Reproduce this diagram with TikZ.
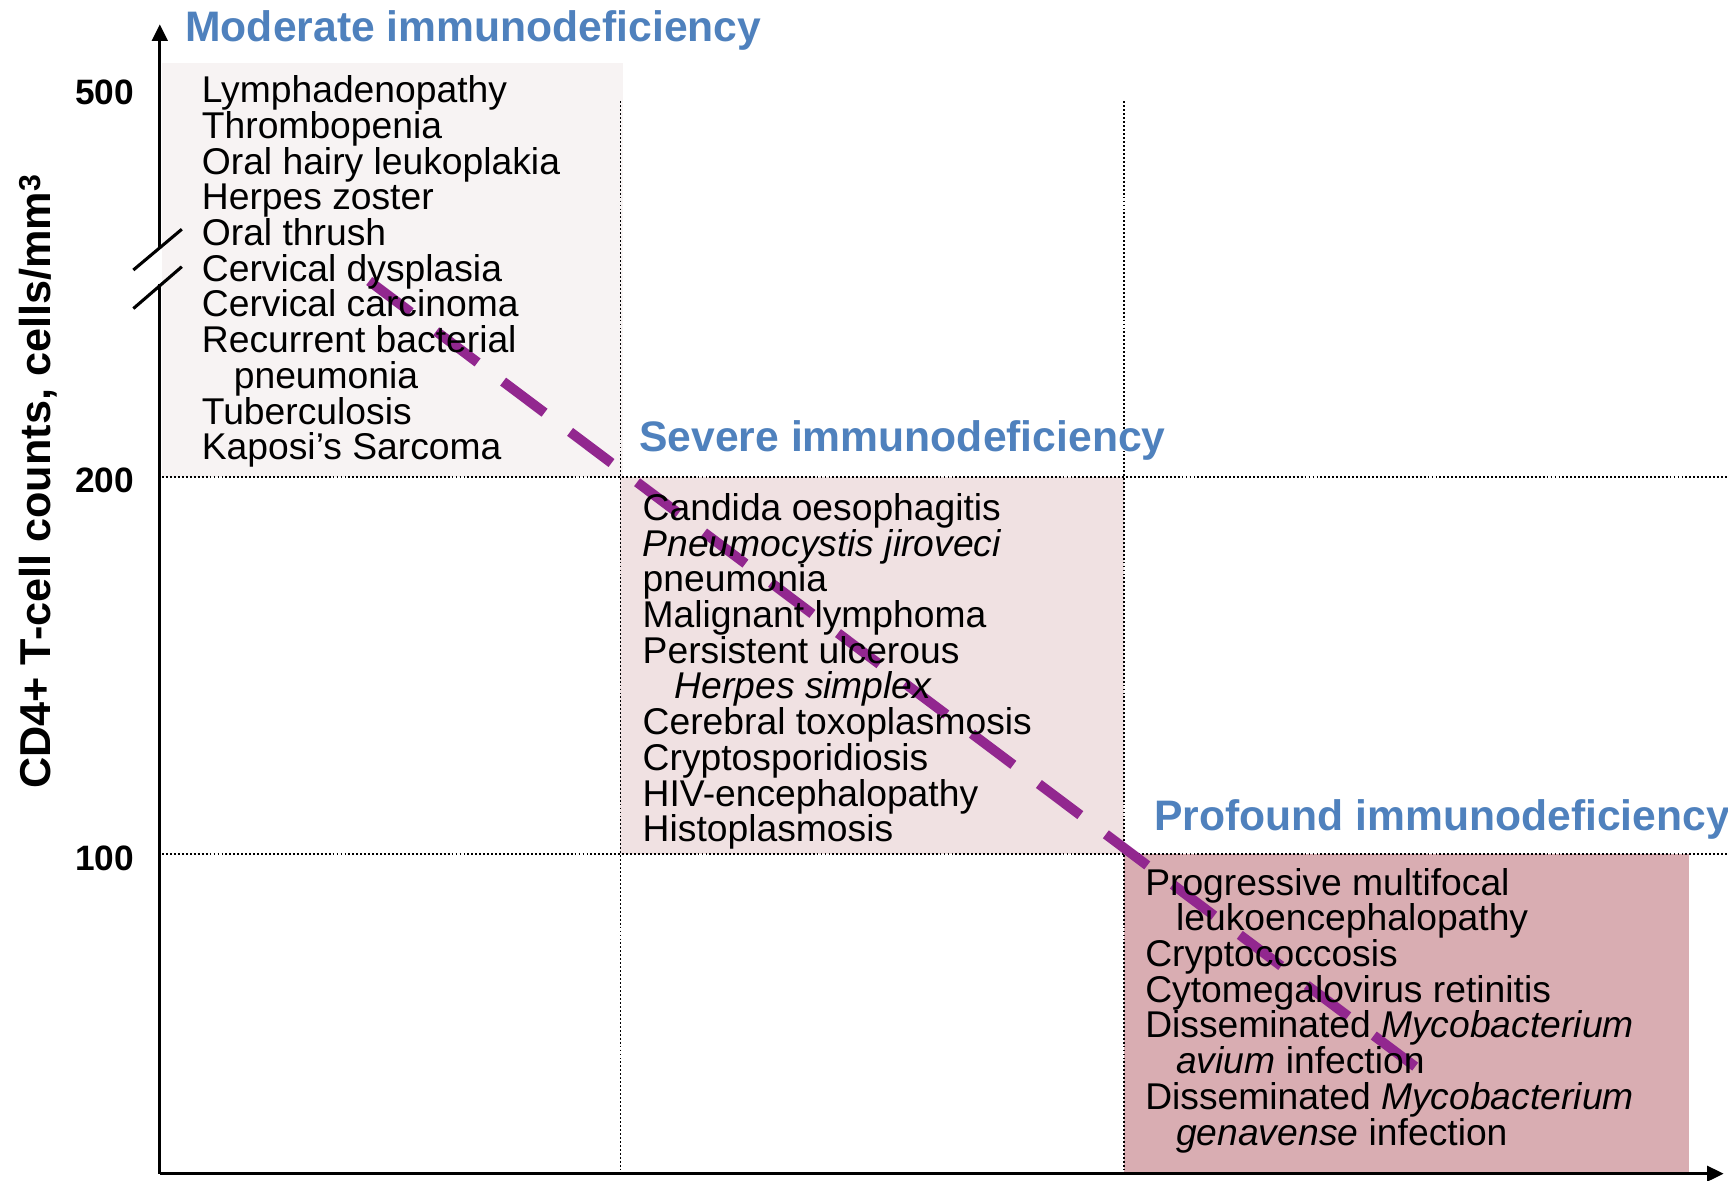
\documentclass[tikz,border=0pt]{standalone}
\usepackage{fontspec}
\setmainfont{Liberation Sans}
\usetikzlibrary{arrows.meta}
\definecolor{titleblue}{HTML}{4F81BD}
\definecolor{trendpurple}{HTML}{92278F}
\definecolor{modfill}{HTML}{F7F3F3}
\definecolor{sevfill}{HTML}{F0E1E2}
\definecolor{proffill}{HTML}{D9ADB2}
\newcommand\listfont{\fontsize{33.8}{32.4}\selectfont\lineskiplimit=-40pt\relax}
\begin{document}
\begin{tikzpicture}[x=1pt,y=-1pt,
  stage/.style={font=\fontsize{38.7}{40}\selectfont\bfseries, text=titleblue, anchor=base west, inner sep=0},
  tick/.style={font=\fontsize{32}{34}\selectfont\bfseries, anchor=base east, inner sep=0},
  illness/.style={font=\listfont, align=left, anchor=north west, inner sep=0},
  gridline/.style={line width=1.7pt, dash pattern=on 1.7pt off 1.9pt},
  axis/.style={line width=2.6pt, -{Triangle[length=15pt,width=14pt]}}]
\useasboundingbox (0,0) rectangle (1568,1071);
\fill[modfill] (147,57) rectangle (565,433);
\fill[sevfill] (563,433) rectangle (1020,775);
\fill[proffill] (1020,775) rectangle (1533,1065);
\draw[gridline] (563,92) -- (563,1065);
\draw[gridline] (1020,92) -- (1020,1065);
\draw[gridline] (147,433) -- (1568,433);
\draw[gridline] (147,775) -- (1568,775);
\coordinate (origin) at (145,1065);
\coordinate (ytop) at (145,22);
\coordinate (xend) at (1564,1065);
\draw[axis] (origin) -- (ytop);
\draw[axis] (origin) -- (xend);
% axis break
\fill[white] (141,226) rectangle (146.5,258);
\draw[line width=2.8pt] (121,245) -- (165,208);
\draw[line width=2.8pt] (121,280) -- (165,242);
\coordinate (trendstart) at (335,255);
\coordinate (trendend) at (1287,970);
\draw[trendpurple, line width=9pt, dash pattern=on 47pt off 29pt] (trendstart) -- (trendend);
\node[tick] (t500) at (122,94.5) {500};
\node[tick] (t200) at (122,446.5) {200};
\node[tick] (t100) at (122,790) {100};
\node[font=\fontsize{39.2}{41}\selectfont\bfseries, rotate=90, anchor=base, inner sep=0] (ylabel) at (46,437) {CD4+ T-cell counts, cells/mm\textsuperscript{3}};
\node[stage] (moderate) at (168,38) {Moderate immunodeficiency};
\node[stage] (severe) at (580,410) {Severe immunodeficiency};
\node[stage] (profound) at (1047,754) {Profound immunodeficiency};
\node[illness] (modlist) at (183,68.5) {Lymphadenopathy\\Thrombopenia\\Oral hairy leukoplakia\\Herpes zoster\\Oral thrush\\Cervical dysplasia\\Cervical carcinoma\\Recurrent bacterial\\\hspace*{29pt}pneumonia\\Tuberculosis\\Kaposi’s Sarcoma};
\node[illness] (sevlist) at (583,447.5) {Candida oesophagitis\\\textit{Pneumocystis jiroveci}\\pneumonia\\Malignant lymphoma\\Persistent ulcerous\\\hspace*{29pt}\textit{Herpes simplex}\\Cerebral toxoplasmosis\\Cryptosporidiosis\\HIV-encephalopathy\\Histoplasmosis};
\node[illness] (proflist) at (1039,787.5) {Progressive multifocal\\\hspace*{28pt}leukoencephalopathy\\Cryptococcosis\\Cytomegalovirus retinitis\\Disseminated \textit{Mycobacterium}\\\hspace*{28pt}\textit{avium} infection\\Disseminated \textit{Mycobacterium}\\\hspace*{28pt}\textit{genavense} infection};
\end{tikzpicture}
\end{document}
